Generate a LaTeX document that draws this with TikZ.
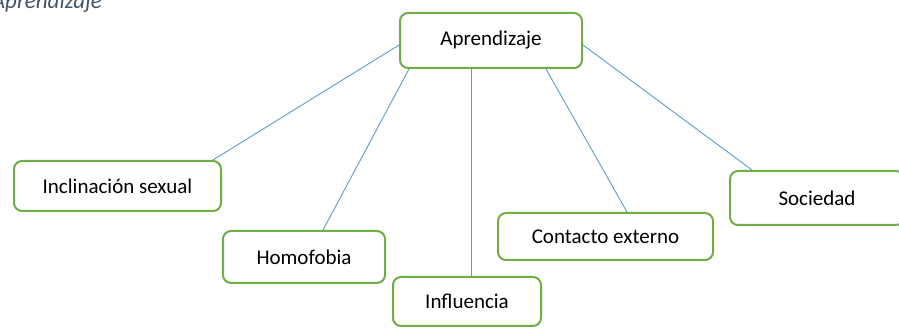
\documentclass[tikz,border=0pt]{standalone}
\usepackage{fontspec}
\setmainfont{Carlito}
\definecolor{boxgreen}{HTML}{70AD47}
\definecolor{lineblue}{HTML}{5B9BD5}
\definecolor{headgray}{HTML}{44546A}
\begin{document}
\begin{tikzpicture}[x=1pt,y=-1pt,
  box/.style={draw=boxgreen, line width=2pt, rounded corners=8pt, fill=white,
    font=\fontsize{21}{25}\selectfont, inner sep=0pt},
  link/.style={draw=lineblue, line width=0.9pt}]
\useasboundingbox (0,0) rectangle (899,328);
\clip (0,0) rectangle (899,328);
\node[font=\fontsize{23}{27}\selectfont\itshape, text=headgray, anchor=base east, inner sep=0pt] (head) at (102,9) {Aprendizaje};
\node[box, minimum width=182pt, minimum height=55pt] (apr) at (491,40.5) {Aprendizaje};
\node[box, minimum width=207pt, minimum height=50pt] (inc) at (117.5,186) {Inclinación sexual};
\node[box, minimum width=162pt, minimum height=52pt] (hom) at (304,257) {Homofobia};
\node[box, minimum width=148pt, minimum height=49pt] (inf) at (467,301.5) {Influencia};
\node[box, minimum width=215pt, minimum height=47pt] (con) at (605.5,236.5) {Contacto externo};
\node[box, minimum width=174pt, minimum height=54pt] (soc) at (817,198) {Sociedad};
\draw[link] ([yshift=-4.5pt]apr.west) -- ([xshift=-9pt]inc.north east);
\draw[link] ([xshift=10pt]apr.south west) -- ([xshift=19pt]hom.north);
\draw[link] ([xshift=-20pt]apr.south) -- ([xshift=4pt]inf.north);
\draw[link] ([xshift=55pt]apr.south) -- ([xshift=21.5pt]con.north);
\draw[link] ([yshift=-4.5pt]apr.east) -- ([xshift=23pt]soc.north west);
\end{tikzpicture}
\end{document}
